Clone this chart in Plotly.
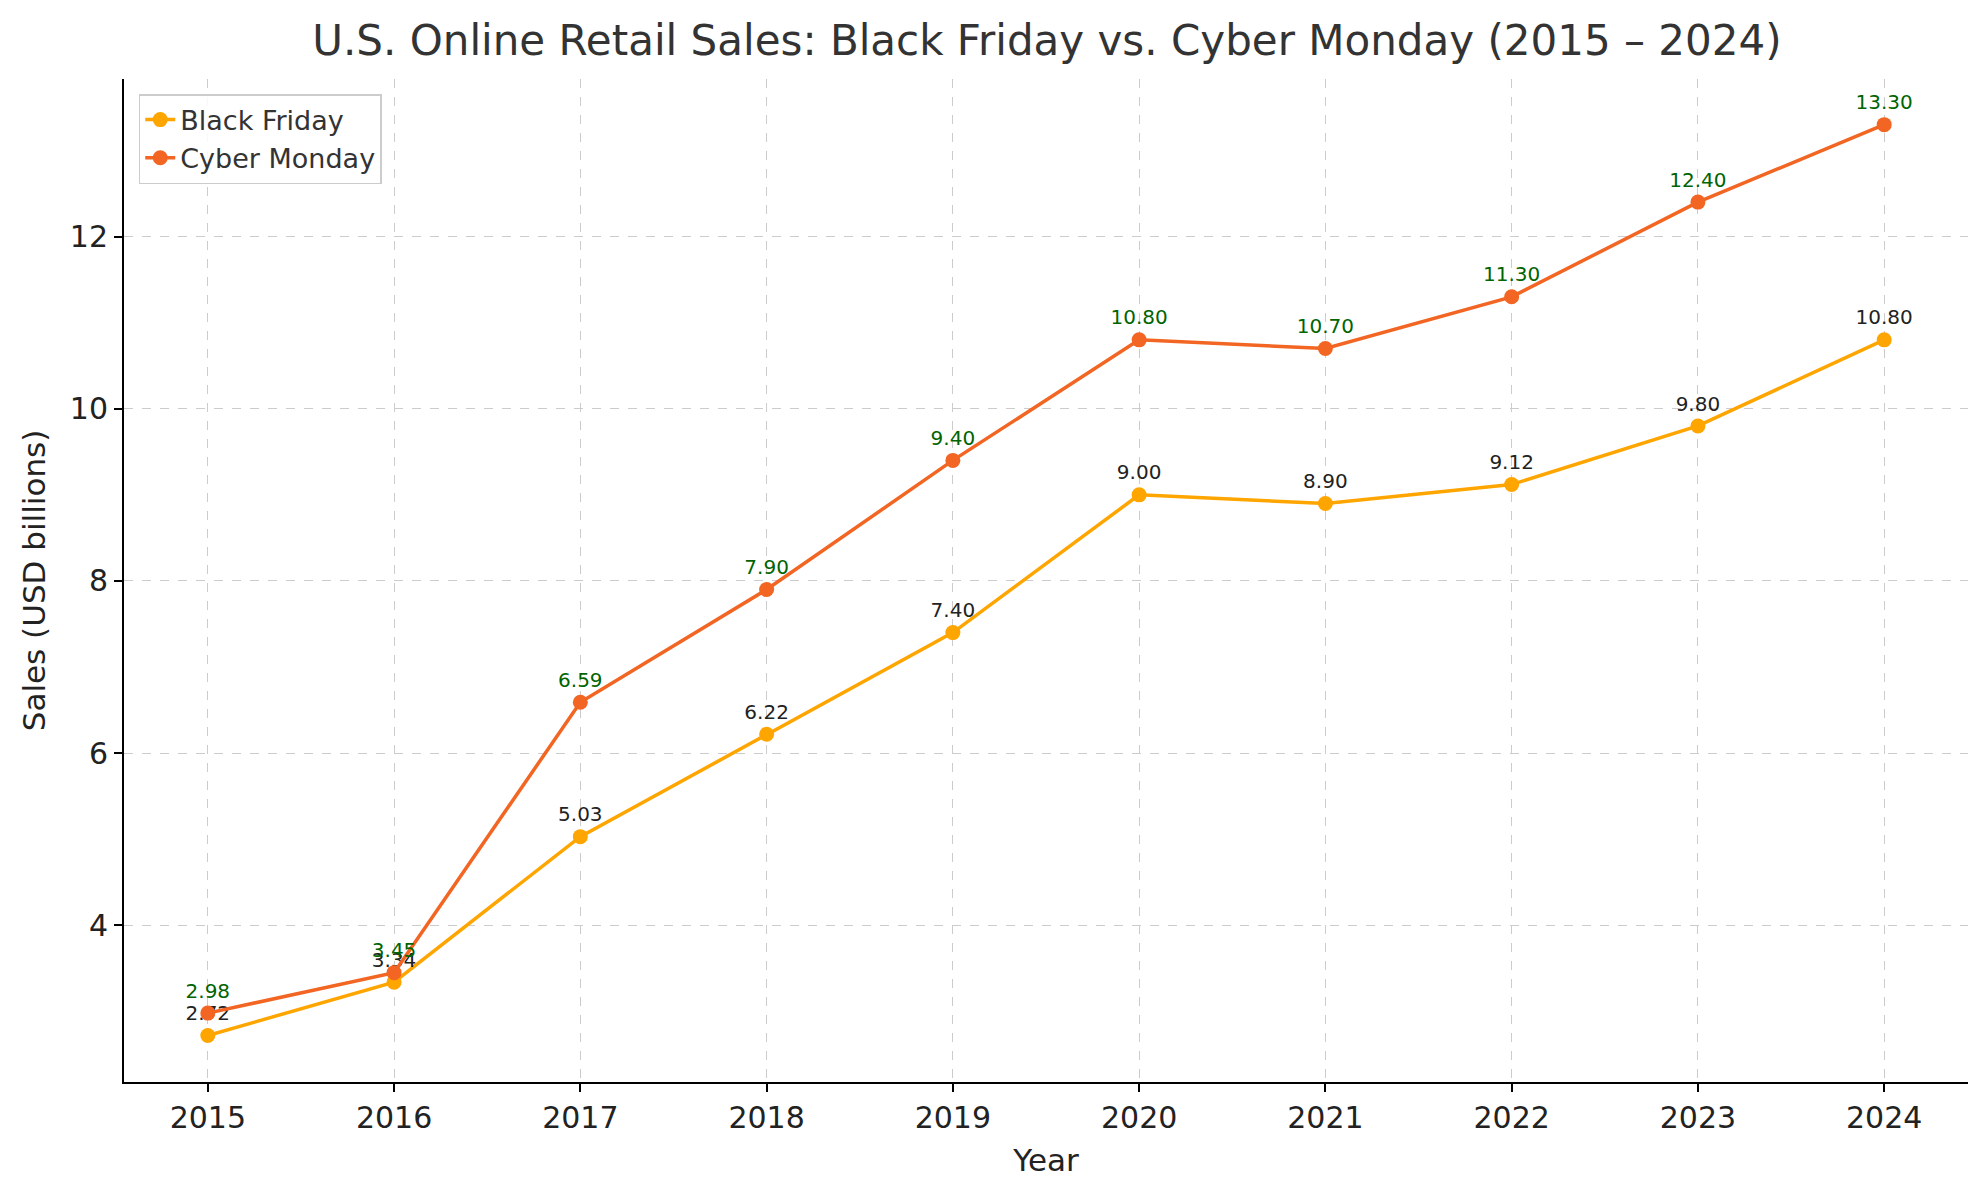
import plotly.graph_objects as go

years = [2015, 2016, 2017, 2018, 2019, 2020, 2021, 2022, 2023, 2024]
black_friday = [2.72, 3.34, 5.03, 6.22, 7.40, 9.00, 8.90, 9.12, 9.80, 10.80]
cyber_monday = [2.98, 3.45, 6.59, 7.90, 9.40, 10.80, 10.70, 11.30, 12.40, 13.30]

FONT = "DejaVu Sans"

fig = go.Figure()
fig.add_trace(go.Scatter(
    x=years, y=black_friday, name="Black Friday", mode="lines+markers+text",
    line=dict(color="#FFA500", width=3.5), marker=dict(size=15, color="#FFA500"),
    text=[f"{v:.2f}" for v in black_friday], textposition="top center",
    textfont=dict(size=20, color="#222222", family=FONT),
))
fig.add_trace(go.Scatter(
    x=years, y=cyber_monday, name="Cyber Monday", mode="lines+markers+text",
    line=dict(color="#F26522", width=3.5), marker=dict(size=15, color="#F26522"),
    text=[f"{v:.2f}" for v in cyber_monday], textposition="top center",
    textfont=dict(size=20, color="darkgreen", family=FONT),
))

axis_common = dict(
    showline=True, linecolor="black", linewidth=2, ticks="outside", ticklen=8,
    tickwidth=1.5, tickcolor="black", showgrid=True, gridcolor="#cccccc",
    griddash="dash", gridwidth=1, zeroline=False,
    tickfont=dict(size=30, family=FONT, color="#222222"),
)

fig.update_layout(
    width=1979, height=1180,
    paper_bgcolor="white", plot_bgcolor="white",
    font=dict(family=FONT, color="#333333"),
    title=dict(text="U.S. Online Retail Sales: Black Friday vs. Cyber Monday (2015 – 2024)",
               x=0.525, xanchor="center", y=0.985, font=dict(size=42, family=FONT, color="#333333")),
    margin=dict(l=116, r=19, t=71, b=106),
    xaxis=dict(axis_common, range=[2014.55, 2024.45], tickvals=years,
               title=dict(text="Year", font=dict(size=31, family=FONT, color="#222222"))),
    yaxis=dict(axis_common, range=[2.18, 13.83], tickvals=[4, 6, 8, 10, 12],
               title=dict(text="Sales (USD billions)", font=dict(size=31, family=FONT, color="#222222"))),
    legend=dict(x=0.008, y=0.985, xanchor="left", yanchor="top", bgcolor="rgba(255,255,255,0.85)",
                bordercolor="#cccccc", borderwidth=1.5, font=dict(size=27, family=FONT, color="#333333")),
    showlegend=True,
)

fig.write_html("out.html")
